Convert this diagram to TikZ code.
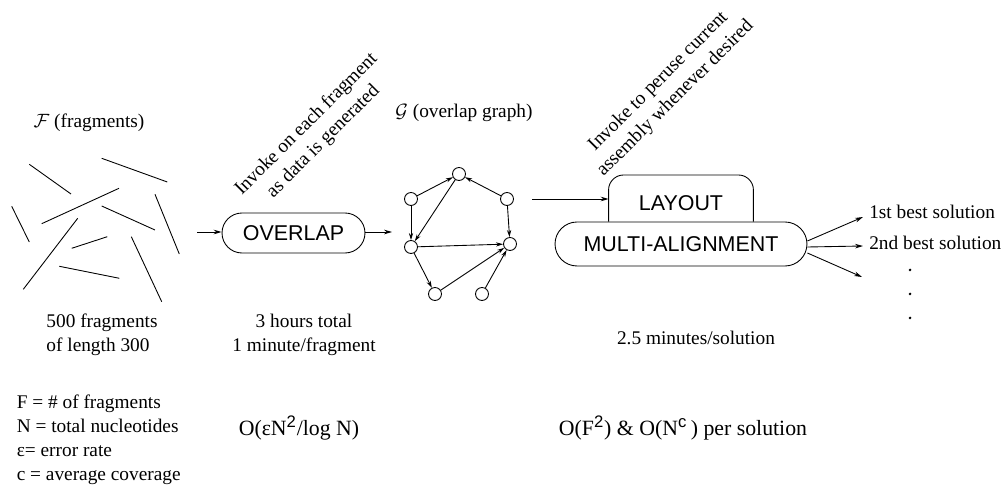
\documentclass[tikz,border=0pt]{standalone}
\usepackage{fontspec}
\setmainfont{Liberation Serif}
\setsansfont{Liberation Sans}
\usetikzlibrary{arrows.meta,calc}

\newcommand{\sfsup}[1]{\textsuperscript{\sffamily\fontsize{9.5}{10}\selectfont #1}}

\begin{document}
\begin{tikzpicture}[x=0.02cm,y=-0.02cm,line width=0.5pt,
  >={Stealth[length=4.5pt,width=2.6pt]},
  txt/.style={font=\fontsize{11}{13.6}\selectfont},
  cost/.style={font=\fontsize{12.4}{15}\selectfont},
  remark/.style={txt,align=center,rotate=45},
  boxlabel/.style={font=\sffamily\fontsize{12.2}{14}\selectfont},
  proc/.style={boxlabel,draw,rounded corners=#1,inner sep=0pt},
  vtx/.style={circle,draw,minimum size=0.26cm,inner sep=0pt}]
  \useasboundingbox (0,0) rectangle (1002,486);

  % fragments
\foreach \xa/\ya/\xb/\yb in {29.3/164.3/71/194, 101.7/158.3/167.3/182,
    41.7/223.7/119/188.3, 11.7/206.3/29.3/242, 155/194.3/179.3/254,
    101.7/206/155/230, 77.7/218.3/23.3/289.3, 71.7/248.3/107.3/236.7,
    131.3/236.7/161.7/301.7, 59.3/266.3/119.3/278.3}
  \draw (\xa,\ya) -- (\xb,\yb);
  \node[txt] (frag) at (89,123) {$\mathcal{F}$ (fragments)};
  \node[txt,align=left] (fragnum) at (102,335) {500 fragments\\of length 300};

  % overlap step
\coordinate (in) at (197,232);
\coordinate (out) at (392,232);
  \node[proc=0.4cm,minimum width=2.86cm,minimum height=0.8cm] (overlap) at (293.5,233) {OVERLAP};
  \draw[->] (in) -- (overlap.west |- in);
  \draw[->] (overlap.east |- out) -- (out);
  \node[remark] (note1) at (315,133) {Invoke on each fragment\\as data is generated};
  \node[txt,align=center] (ovtime) at (304,335) {3 hours total\\1 minute/fragment};

  % overlap graph
\node[vtx] (g1) at (459,174) {};
\node[vtx] (g2) at (411,199) {};
\node[vtx] (g3) at (507,199) {};
\node[vtx] (g4) at (411,247) {};
\node[vtx] (g5) at (510,244) {};
\node[vtx] (g6) at (435,294) {};
\node[vtx] (g7) at (482,294) {};
\foreach \a/\b in {g2/g1,g3/g1,g1/g4,g2/g4,g3/g5,g4/g5,g4/g6,g6/g5,g7/g5}
  \draw[->,>={Stealth[length=4pt,width=2.4pt]}] (\a) -- (\b);
  \node[txt] (graph) at (464,113) {$\mathcal{G}$ (overlap graph)};

  % layout on top of multi-alignment
  \node[proc=0.44cm,minimum width=5.04cm,minimum height=0.88cm] (multi) at (681,244) {MULTI-ALIGNMENT};
  \node[boxlabel,minimum width=2.88cm,inner sep=0pt] (layout) at (681,203) {LAYOUT};
  \draw[rounded corners=0.3cm] (layout.west |- multi.north) -- ($(layout.west)+(0,-28)$)
    -- ($(layout.east)+(0,-28)$) -- (layout.east |- multi.north);
\coordinate (gout) at (532,199);
  \draw[->] (gout) -- (layout.west |- gout);
  \node[remark] (note2) at (667,90) {Invoke to peruse current\\assembly whenever desired};
  \node[txt] (soltime) at (696,338) {2.5 minutes/solution};

  % solutions
  \node[txt,anchor=west] (best1) at (863,212) {1st best solution};
  \node[txt,anchor=west] (best2) at (863,243) {2nd best solution};
\coordinate (more) at (862,277);
  \draw[->] ($(multi.east)+(0,-3)$) -- ($(best1.west)+(0,5)$);
  \draw[->] ($(multi.east)+(0,3)$) -- ($(best2.west)+(0,3)$);
  \draw[->] ($(multi.east)+(0,9)$) -- (more);
\foreach \y in {270,294,318}
  \fill (910,\y) circle (0.85pt);

  % costs
  \node[txt,align=left,anchor=west] (legend) at (10.5,440)
    {F = \# of fragments\\N = total nucleotides\\ε= error rate\\c = average coverage};
  \node[cost] (ovcost) at (299,428) {O(εN\sfsup{2}/log N)};
  \node[cost] (solcost) at (683,428) {O(F\sfsup{2}) \& O(N\sfsup{c}\,) per solution};
\end{tikzpicture}
\end{document}
